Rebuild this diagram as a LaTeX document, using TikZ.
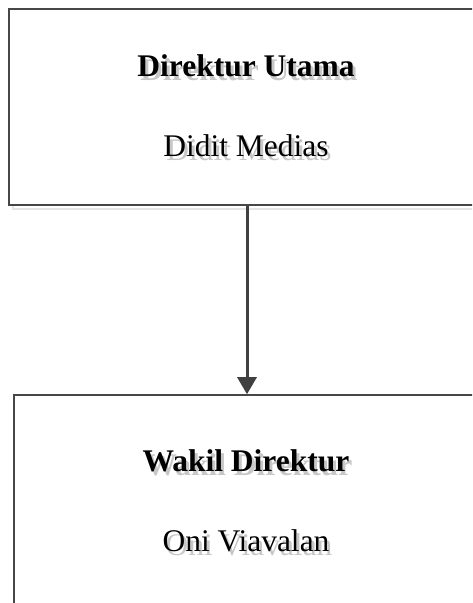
\documentclass[tikz,border=0pt]{standalone}
\usepackage{fontspec}
\setmainfont{Liberation Serif}
\usetikzlibrary{positioning,arrows.meta}

% text with a light gray drop shadow
\newcommand{\shadowed}[1]{\rlap{\raisebox{-4pt}{\kern3pt\color{black!22}#1}}#1}

\begin{document}
\begin{tikzpicture}[x=1pt,y=1pt]
    % --- Styles ---
    \tikzstyle{org_box}=[draw=black!72, line width=1.5pt, fill=white, inner sep=0pt]
    \tikzstyle{box_shadow}=[draw=black!10, line width=2pt, inner sep=0pt]
    \tikzstyle{title_text}=[font=\fontsize{31.5}{36}\selectfont\bfseries, inner sep=0pt, anchor=base]
    \tikzstyle{name_text}=[font=\fontsize{31.5}{36}\selectfont, inner sep=0pt, anchor=base]
    \tikzstyle{connector}=[line width=3pt, draw=black!75, -{Triangle[width=19pt,length=17pt]}]

    \useasboundingbox (0,0) rectangle (472,603);
    \clip (0,0) rectangle (472,603);

    % --- 1. Boxes ---
    \node[box_shadow, minimum width=473, minimum height=196] at (249.5,492) {};
    \node[org_box, minimum width=473, minimum height=196] (direktur) at (245.5,496) {};

    \node[box_shadow, minimum width=468, minimum height=228] at (252,90) {};
    \node[org_box, minimum width=468, minimum height=228] (wakil) at (248,94) {};

    % --- 2. Texts ---
    \node[title_text] (direkturTitle) at (246,526) {\shadowed{Direktur Utama}};
    \node[name_text] (direkturName) at (246,446) {\shadowed{Didit Medias}};

    \node[title_text] (wakilTitle) at (246,131) {\shadowed{Wakil Direktur}};
    \node[name_text] (wakilName) at (246,51) {\shadowed{Oni Viavalan}};

    % --- 3. Connector ---
    \coordinate (axis) at (247,0);
    \draw[connector] (direktur.south -| axis) -- (wakil.north -| axis);
\end{tikzpicture}
\end{document}
